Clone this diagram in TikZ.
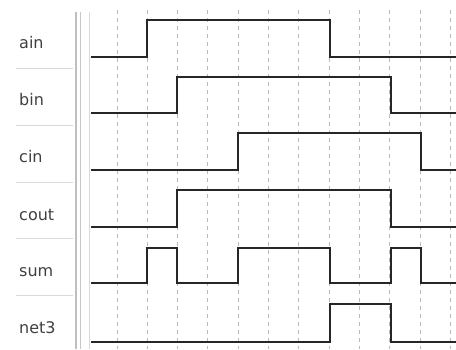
\documentclass[tikz,border=0pt]{standalone}
\usepackage{fontspec}
\setmainfont{DejaVu Sans}
\usepackage{tikz}

\begin{document}
\begin{tikzpicture}[x=1pt,y=-1pt,
 wave/.style={line width=2.4pt,black!85},
 gridline/.style={gray!55,line width=0.9pt,dash pattern=on 4pt off 4pt},
 sep/.style={gray!30,line width=1pt},
 lab/.style={anchor=base west,inner sep=0pt,font=\fontsize{16}{18}\selectfont,black!75}]
\useasboundingbox (0,0) rectangle (456,349);
% grid
\foreach \k in {0,...,11}
  \draw[gridline] ({117+30.3*\k},10) -- ({117+30.3*\k},349);
\draw[gray!50,line width=2pt] (76,12) -- (76,349);
\draw[gray!45,line width=1pt] (80.5,12) -- (80.5,349);
\draw[gray!30,line width=1pt] (89,12) -- (89,349);
\foreach \y in {68,125,182,238,295}
  \draw[sep] (16,\y) -- (73,\y);
% signal names
\node[lab] (ain) at (19,48) {ain};
\node[lab] (bin) at (19,105) {bin};
\node[lab] (cin) at (19,162) {cin};
\node[lab] (cout) at (19,220) {cout};
\node[lab] (sum) at (19,276) {sum};
\node[lab] (net3) at (19,333) {net3};
% waveforms
\draw[wave] (91,57) -| (147,20) -| (330,57) -- (456,57);
\draw[wave] (91,113) -| (177,77) -| (391,113) -- (456,113);
\draw[wave] (91,170) -| (238,133) -| (421,170) -- (456,170);
\draw[wave] (91,227) -| (177,190) -| (391,227) -- (456,227);
\draw[wave] (91,283) -| (147,248) -| (177,283) -| (238,248) -| (330,283)
  -| (391,248) -| (421,283) -- (456,283);
\draw[wave] (91,342) -| (330,304) -| (391,342) -- (456,342);
\end{tikzpicture}
\end{document}
